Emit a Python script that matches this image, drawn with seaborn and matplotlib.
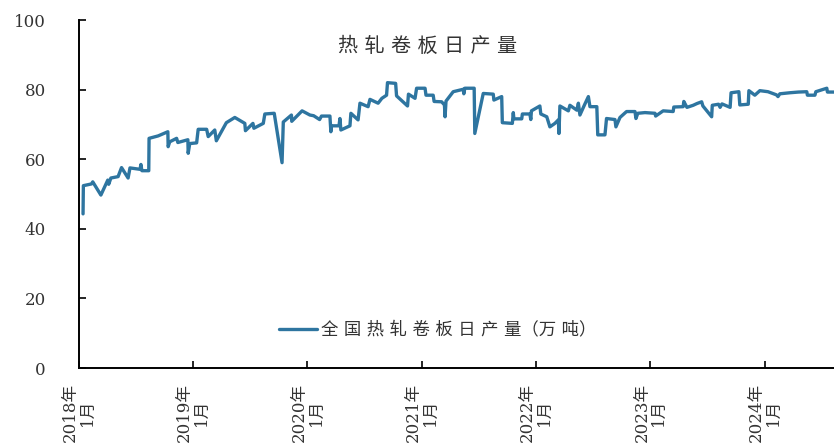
import pandas as pd
import seaborn as sns
import matplotlib.pyplot as plt

sns.set_theme(style='white')
plt.rcParams['font.family'] = ['DejaVu Serif', 'Noto Sans CJK SC']

# 全国热轧卷板日产量（万吨）
dates = [
    '2018-01-14', '2018-01-15', '2018-02-10', '2018-02-14', '2018-03-12', '2018-04-03',
    '2018-04-06', '2018-04-13', '2018-05-06', '2018-05-17', '2018-06-07', '2018-06-13',
    '2018-07-15', '2018-07-18', '2018-07-21', '2018-08-12', '2018-08-13', '2018-09-11',
    '2018-10-12', '2018-10-13', '2018-10-18', '2018-11-09', '2018-11-13', '2018-12-15',
    '2018-12-16', '2018-12-21', '2019-01-12', '2019-01-17', '2019-02-13', '2019-02-18',
    '2019-03-11', '2019-03-16', '2019-04-17', '2019-05-14', '2019-06-15', '2019-06-17',
    '2019-07-11', '2019-07-14', '2019-08-13', '2019-08-18', '2019-09-17', '2019-10-12',
    '2019-10-16', '2019-11-11', '2019-11-12', '2019-12-15', '2020-01-09', '2020-01-21',
    '2020-02-09', '2020-02-15', '2020-03-13', '2020-03-16', '2020-03-17', '2020-04-11',
    '2020-04-14', '2020-04-17', '2020-05-16', '2020-05-19', '2020-06-11', '2020-06-17',
    '2020-07-13', '2020-07-19', '2020-08-14', '2020-08-26', '2020-09-10', '2020-09-13',
    '2020-10-09', '2020-10-12', '2020-11-16', '2020-11-19', '2020-12-10', '2020-12-15',
    '2021-01-11', '2021-01-14', '2021-02-06', '2021-02-09', '2021-03-05', '2021-03-14',
    '2021-03-16', '2021-03-19', '2021-04-11', '2021-05-13', '2021-05-15', '2021-05-18',
    '2021-06-17', '2021-06-19', '2021-07-16', '2021-08-17', '2021-08-19', '2021-09-13',
    '2021-09-15', '2021-10-17', '2021-10-20', '2021-10-22', '2021-11-16', '2021-11-18',
    '2021-12-12', '2021-12-15', '2021-12-17', '2022-01-13', '2022-01-16', '2022-02-04',
    '2022-02-14', '2022-03-02', '2022-03-13', '2022-03-15', '2022-03-18', '2022-04-14',
    '2022-04-19', '2022-05-11', '2022-05-16', '2022-05-21', '2022-06-04', '2022-06-17',
    '2022-06-22', '2022-07-14', '2022-07-17', '2022-08-09', '2022-08-14', '2022-09-10',
    '2022-09-13', '2022-09-26', '2022-10-17', '2022-11-13', '2022-11-16', '2022-11-22',
    '2022-12-15', '2023-01-16', '2023-01-18', '2023-02-11', '2023-03-15', '2023-03-17',
    '2023-04-16', '2023-04-18', '2023-04-28', '2023-05-18', '2023-05-30', '2023-06-14',
    '2023-06-18', '2023-07-16', '2023-07-18', '2023-08-07', '2023-08-12', '2023-08-18',
    '2023-09-13', '2023-09-16', '2023-10-11', '2023-10-14', '2023-11-10', '2023-11-12',
    '2023-12-01', '2023-12-17', '2024-01-12', '2024-02-08', '2024-02-13', '2024-02-19',
    '2024-03-22', '2024-04-18', '2024-05-15', '2024-05-17', '2024-06-10', '2024-06-13',
    '2024-07-18', '2024-07-20', '2024-08-10',
]
output = [
    44.3, 52.4, 52.9, 53.5, 49.7, 54.0,
    52.8, 54.6, 55.0, 57.6, 54.6, 57.5,
    57.1, 58.5, 56.7, 56.7, 66.0, 66.7,
    67.9, 63.6, 65.0, 66.0, 64.8, 65.6,
    61.7, 64.5, 64.7, 68.6, 68.6, 66.5,
    68.4, 65.3, 70.5, 72.0, 70.3, 68.2,
    70.3, 68.9, 70.3, 73.0, 73.2, 59.0,
    70.7, 72.7, 70.9, 73.9, 72.7, 72.5,
    71.4, 72.4, 72.4, 67.9, 69.6, 69.6,
    71.7, 68.4, 69.6, 73.2, 71.3, 76.1,
    75.1, 77.2, 76.1, 77.5, 78.4, 82.0,
    81.8, 78.2, 75.3, 78.7, 77.5, 80.4,
    80.4, 78.4, 78.4, 76.6, 76.5, 75.6,
    72.2, 76.7, 79.4, 80.1, 78.8, 80.4,
    80.4, 67.4, 78.9, 78.7, 77.0, 78.0,
    70.5, 70.3, 73.4, 71.6, 71.6, 73.0,
    73.0, 71.4, 73.9, 75.3, 73.0, 72.2,
    69.3, 70.3, 71.3, 67.4, 75.3, 73.9,
    75.5, 74.1, 76.1, 72.7, 75.5, 78.0,
    75.1, 75.1, 67.0, 67.0, 71.7, 71.4,
    69.3, 72.0, 73.7, 73.7, 71.7, 73.2,
    73.4, 73.2, 72.4, 73.9, 73.7, 75.0,
    75.1, 76.6, 74.9, 75.5, 76.0, 76.5,
    75.3, 72.2, 75.5, 75.8, 74.9, 75.9,
    74.9, 79.1, 79.4, 75.6, 75.8, 79.7,
    78.4, 79.7, 79.4, 78.5, 78.0, 78.8,
    79.1, 79.3, 79.4, 78.4, 78.4, 79.4,
    80.4, 79.3, 79.3,
]

tick_years = [2018, 2019, 2020, 2021, 2022, 2023, 2024]
y_ticks = [0, 20, 40, 60, 80, 100]

title = '热 轧 卷 板 日 产 量'
series_name = '全 国 热 轧 卷 板 日 产 量（万 吨）'

df = pd.DataFrame({'日期': pd.to_datetime(dates), series_name: output})
long_df = df.melt(id_vars='日期', var_name='指标', value_name='值')

fig = plt.figure(figsize=(8.34, 4.45), dpi=100)
ax = fig.add_axes([0.0947, 0.173, 0.9053, 0.782])

sns.lineplot(data=long_df, x='日期', y='值', hue='指标', palette=['#2e75a0'],
             linewidth=2.4, estimator=None, sort=False, ax=ax)

ax.set_xlim(pd.Timestamp('2018-01-01'), pd.Timestamp('2024-08-10'))
ax.set_ylim(0, 100)
ax.set_yticks(y_ticks)
ax.set_xticks([pd.Timestamp(f'{y}-01-01') for y in tick_years])
ax.set_xticklabels([f'{y}年\n1月' for y in tick_years], rotation=90,
                   multialignment='center', linespacing=1.0)
ax.set_xlabel('')
ax.set_ylabel('')

for s in ['top', 'right']:
    ax.spines[s].set_visible(False)
for s in ['left', 'bottom']:
    ax.spines[s].set_color('black')
    ax.spines[s].set_linewidth(1.4)

ax.tick_params(axis='y', direction='in', length=5, width=1.2, pad=24,
               labelsize=12, colors='black', labelcolor='#333333', left=True)
ax.tick_params(axis='x', direction='in', length=5, width=1.2, pad=11,
               labelsize=12, colors='black', labelcolor='#333333', bottom=True)

ax.text(0.462, 0.925, title, transform=ax.transAxes, ha='center', va='center',
        fontsize=14.5, color='#333333')

handles, labels = ax.get_legend_handles_labels()
ax.legend(handles, [series_name], loc='center', bbox_to_anchor=(0.475, 0.109),
          frameon=False, fontsize=12.5, handlelength=2.2, handletextpad=0.2,
          labelcolor='#333333')

fig.savefig('out.png', dpi=100)
